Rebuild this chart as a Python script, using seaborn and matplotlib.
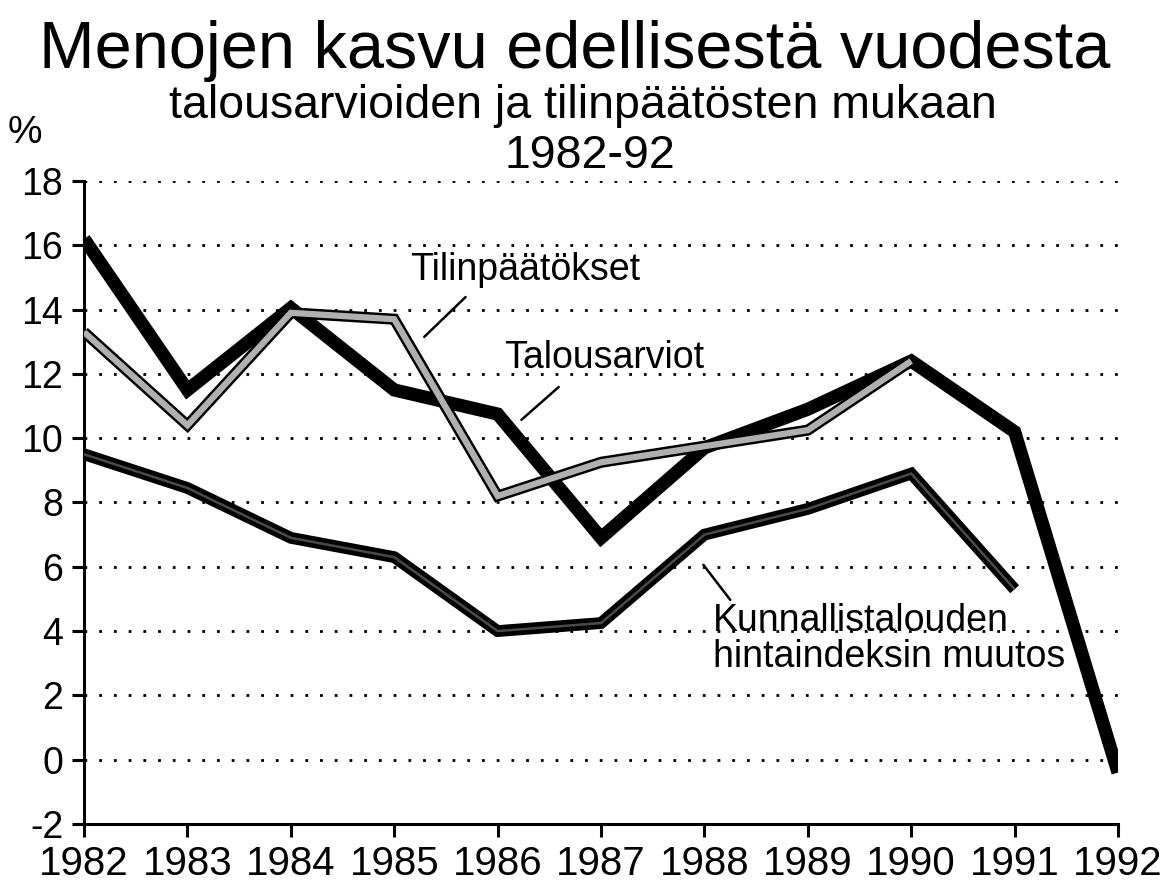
import numpy as np
import pandas as pd
import seaborn as sns
import matplotlib.pyplot as plt

# values
years = list(range(1982, 1993))
talousarviot = [16.2, 11.5, 14.05, 11.5, 10.75, 6.9, 9.7, 10.9, 12.4, 10.2, -0.4]
tilinpaatokset = [13.3, 10.4, 13.9, 13.7, 8.2, 9.25, 9.75, 10.25, 12.4]
hintaindeksi = [9.5, 8.45, 6.9, 6.3, 4.0, 4.25, 7.0, 7.8, 8.9, 5.3]
y_ticks = list(range(-2, 19, 2))

sns.set_style("white")
plt.rcParams['font.family'] = ['Liberation Sans', 'DejaVu Sans']
plt.rcParams['text.color'] = 'black'
plt.rcParams['xtick.color'] = 'black'
plt.rcParams['ytick.color'] = 'black'

fig = plt.figure(figsize=(11.69, 8.81), dpi=100)
ax = fig.add_axes([0.0719, 0.0647, 0.8845, 0.7299])

# dotted grid lines
for v in y_ticks[1:]:
    ax.axhline(v, color='black', lw=2, linestyle=(0, (1, 4.3)), zorder=1)

join = dict(solid_joinstyle='miter', solid_capstyle='butt')

# price index line: black with a grey core
sns.lineplot(x=years[:len(hintaindeksi)], y=hintaindeksi, ax=ax, color='black',
             lw=8.5, zorder=3, **join)
sns.lineplot(x=years[:len(hintaindeksi)], y=hintaindeksi, ax=ax, color='#4a4a4a',
             lw=1.8, zorder=3.1, **join)

# budgets: thick black
sns.lineplot(x=years, y=talousarviot, ax=ax, color='black', lw=9.5, zorder=4, **join)

# financial statements: grey with black outline
sns.lineplot(x=years[:len(tilinpaatokset)], y=tilinpaatokset, ax=ax, color='black',
             lw=8, zorder=5, **join)
sns.lineplot(x=years[:len(tilinpaatokset)], y=tilinpaatokset, ax=ax, color='#b0b0b0',
             lw=4.5, zorder=5.1, **join)

ax.set_xlim(1982, 1992)
ax.set_ylim(-2, 18)
ax.set_xticks(years)
ax.set_yticks(y_ticks)
ax.set_xticklabels([str(y) for y in years], fontsize=29)
ax.set_yticklabels([str(v) for v in y_ticks], fontsize=27)
ax.set_xlabel('')
ax.set_ylabel('')
for s in ['top', 'right']:
    ax.spines[s].set_visible(False)
for s in ['left', 'bottom']:
    ax.spines[s].set_linewidth(2.2)
    ax.spines[s].set_color('black')
ax.tick_params(axis='both', direction='out', length=9, width=2.2, color='black',
               pad=6, left=True, bottom=True)

# labels with pointer lines
ax.text(1986.27, 15.23, 'Tilinpäätökset', fontsize=27, ha='center', va='center')
ax.plot([1985.69, 1985.29], [14.39, 13.15], color='black', lw=1.8)
ax.text(1987.03, 12.5, 'Talousarviot', fontsize=27, ha='center', va='center')
ax.plot([1986.59, 1986.23], [11.59, 10.57], color='black', lw=1.8)
ax.text(1988.08, 3.75, 'Kunnallistalouden\nhintaindeksin muutos', fontsize=27,
        ha='left', va='center', linespacing=1.0)
ax.plot([1987.99, 1988.25], [6.06, 4.97], color='black', lw=1.8)

fig.text(0.492, 0.923, 'Menojen kasvu edellisestä vuodesta', fontsize=48,
         ha='center', va='baseline')
fig.text(0.499, 0.866, 'talousarvioiden ja tilinpäätösten mukaan', fontsize=33.5,
         ha='center', va='baseline')
fig.text(0.505, 0.809, '1982-92', fontsize=33.5, ha='center', va='baseline')
fig.text(0.021, 0.849, '%', fontsize=28, ha='center', va='center')

fig.savefig('out.png', dpi=100)
